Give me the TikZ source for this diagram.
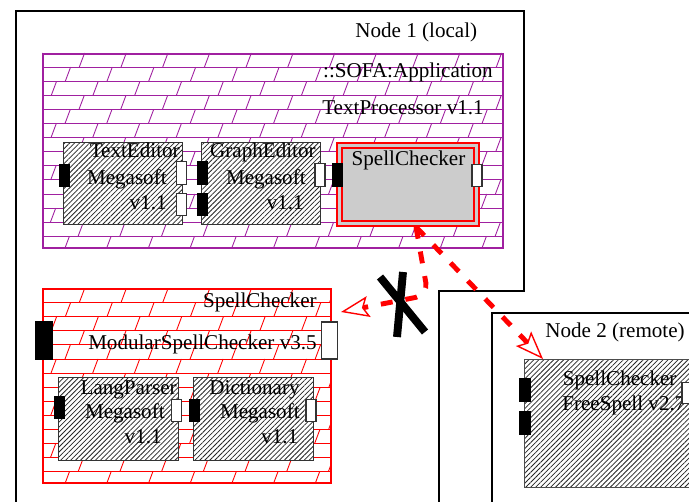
\documentclass[tikz,border=0pt]{standalone}
\usepackage{fontspec}
\setmainfont{Liberation Serif}
\usepackage{tikz}
\usetikzlibrary{patterns.meta,arrows.meta}
\definecolor{DpPurple}{HTML}{A020A0}
\definecolor{DpRed}{HTML}{FF0000}
\definecolor{DpGray}{HTML}{CCCCCC}
\definecolor{DpEdge}{HTML}{333333}

% slanted brick fill: colour, left, top, right, bottom
\newcommand{\brickwall}[5]{%
  \begin{scope}
    \clip (#2,#3) rectangle (#4,#5);
    \foreach \k in {0,...,13} {
      \draw[#1,line width=0.5pt] (#2,{#3-0.282*\k}) -- (#4,{#3-0.282*\k});
      \foreach \j in {-1,...,15}
        \draw[#1,line width=0.5pt] ({#2+0.746+0.834*\j-0.28*\k},{#3-0.282*(\k+1)}) -- ++(0.106,0.282);
    }
  \end{scope}}

\begin{document}
\begin{tikzpicture}[x=1cm,y=1cm,
  txt/.style={inner sep=0pt,font=\fontsize{12}{14.5}\selectfont},
  comp/.style={draw=DpEdge,line width=0.7pt,preaction={fill=white},pattern={Lines[angle=45,distance=2pt,line width=0.45pt]},pattern color=black!85,inner sep=0pt,anchor=north west},
  reqport/.style={draw=black,fill=black,inner sep=0pt,minimum width=0.2cm,minimum height=0.45cm},
  provport/.style={draw=DpEdge,fill=white,line width=0.6pt,inner sep=0pt,minimum width=0.2cm,minimum height=0.45cm},
  link/.style={DpRed,line width=2.8pt,dash pattern=on 6.8pt off 7.4pt,-{Stealth[length=16pt,width=12pt,inset=3pt,line width=0.8pt,fill=white]}}]
\clip (0,0) rectangle (13.78,10.02);

% deployment nodes
\draw[line width=0.6pt] (0.32,9.80) -- (10.48,9.80) -- (10.48,4.20) -- (8.78,4.20) -- (8.78,-0.20) -- (0.32,-0.20) -- cycle;
\node[txt,anchor=base west] (n1lbl) at (7.10,9.26) {Node 1 (local)};
\draw[line width=0.6pt] (9.84,-0.20) rectangle (14.20,3.76);
\node[txt,anchor=base west] (n2lbl) at (10.90,3.26) {Node 2 (remote)};

% application
\brickwall{DpPurple}{0.84}{8.96}{10.04}{5.08}
\node[draw=DpPurple,line width=1.1pt,inner sep=0pt,minimum width=9.20cm,minimum height=3.88cm,anchor=north west] (app) at (0.84,8.96) {};
\node[txt,anchor=base east] (appname) at (9.86,8.46) {::SOFA:Application};
\node[txt,anchor=base east] (appver) at (9.68,7.72) {TextProcessor v1.1};

% text editor
\node[comp,minimum width=2.38cm,minimum height=1.64cm] (te) at (1.26,7.18) {};
\node[txt,anchor=base east] (tename) at (3.60,6.86) {TextEditor};
\node[txt,anchor=base east] (tevend) at (3.34,6.32) {Megasoft};
\node[txt,anchor=base east] (tever) at (3.34,5.82) {v1.1};
\node[reqport] (tein) at (1.28,6.51) {};
\node[provport] (teouta) at (3.63,6.56) {};
\node[provport] (teoutb) at (3.63,5.93) {};

% graph editor
\node[comp,minimum width=2.38cm,minimum height=1.64cm] (ge) at (4.02,7.18) {};
\node[txt,anchor=base east] (gename) at (6.32,6.86) {GraphEditor};
\node[txt,anchor=base east] (gevend) at (6.12,6.32) {Megasoft};
\node[txt,anchor=base east] (gever) at (6.08,5.82) {v1.1};
\node[reqport] (geina) at (4.04,6.56) {};
\node[reqport] (geinb) at (4.04,5.93) {};
\node[provport] (geout) at (6.40,6.52) {};

% spell checker being replaced
\node[draw=DpRed,fill=DpGray,line width=1.1pt,inner sep=0pt,minimum width=2.84cm,minimum height=1.66cm,anchor=north west] (sc) at (6.72,7.18) {};
\draw[DpRed,line width=1.1pt] ([shift={(0.12,-0.12)}]sc.north west) rectangle ([shift={(-0.12,0.12)}]sc.south east);
\node[txt,anchor=base] (scname) at (8.17,6.70) {SpellChecker};
\node[reqport] (scin) at (6.74,6.52) {};
\node[provport] (scout) at (9.54,6.51) {};

% modular spell checker
\brickwall{DpRed}{0.84}{4.25}{6.60}{0.38}
\node[draw=DpRed,line width=1.1pt,inner sep=0pt,minimum width=5.76cm,minimum height=3.87cm,anchor=north west] (msc) at (0.84,4.25) {};
\node[txt,anchor=base east] (mscname) at (6.34,3.86) {SpellChecker};
\node[txt,anchor=base east] (mscver) at (6.34,3.02) {ModularSpellChecker v3.5};
\node[reqport,minimum width=0.34cm,minimum height=0.76cm] (mscin) at (0.87,3.22) {};
\node[provport,minimum width=0.32cm,minimum height=0.74cm] (mscout) at (6.59,3.21) {};

\node[comp,minimum width=2.40cm,minimum height=1.66cm] (lp) at (1.16,2.48) {};
\node[txt,anchor=base east] (lpname) at (3.54,2.14) {LangParser};
\node[txt,anchor=base east] (lpvend) at (3.30,1.66) {Megasoft};
\node[txt,anchor=base east] (lpver) at (3.24,1.16) {v1.1};
\node[reqport] (lpin) at (1.19,1.87) {};
\node[provport] (lpout) at (3.53,1.81) {};

\node[comp,minimum width=2.40cm,minimum height=1.66cm] (dic) at (3.86,2.48) {};
\node[txt,anchor=base east] (dicname) at (6.00,2.14) {Dictionary};
\node[txt,anchor=base east] (dicvend) at (6.00,1.66) {Megasoft};
\node[txt,anchor=base east] (dicver) at (5.97,1.16) {v1.1};
\node[reqport] (dicin) at (3.88,1.81) {};
\node[provport] (dicout) at (6.22,1.81) {};

% remote spell checker
\node[comp,draw=black!70,line width=0.8pt,minimum width=3.72cm,minimum height=2.56cm] (fs) at (10.48,2.84) {};
\node[txt,anchor=base west] (fsname) at (11.25,2.30) {SpellChecker};
\node[txt,anchor=base west] (fsver) at (11.24,1.82) {FreeSpell v2.7};
\node[reqport,minimum width=0.23cm,minimum height=0.46cm] (fsina) at (10.50,2.23) {};
\node[reqport,minimum width=0.23cm,minimum height=0.46cm] (fsinb) at (10.50,1.57) {};
\node[provport,minimum height=0.42cm] (fsout) at (13.74,2.16) {};

% update links
\coordinate (mscend) at (6.82,3.78);
\draw[link,rounded corners=0.25cm] ([xshift=0.16cm]sc.south) -- (8.56,4.12) -- (mscend);
\draw[link] ([xshift=0.16cm]sc.south) -- ([xshift=0.38cm]fs.north west);

% rejected
\draw[line width=4.5pt] (7.60,4.48) -- (8.50,3.38);
\draw[line width=4.5pt] (8.06,4.58) -- (7.94,3.28);
\end{tikzpicture}
\end{document}
